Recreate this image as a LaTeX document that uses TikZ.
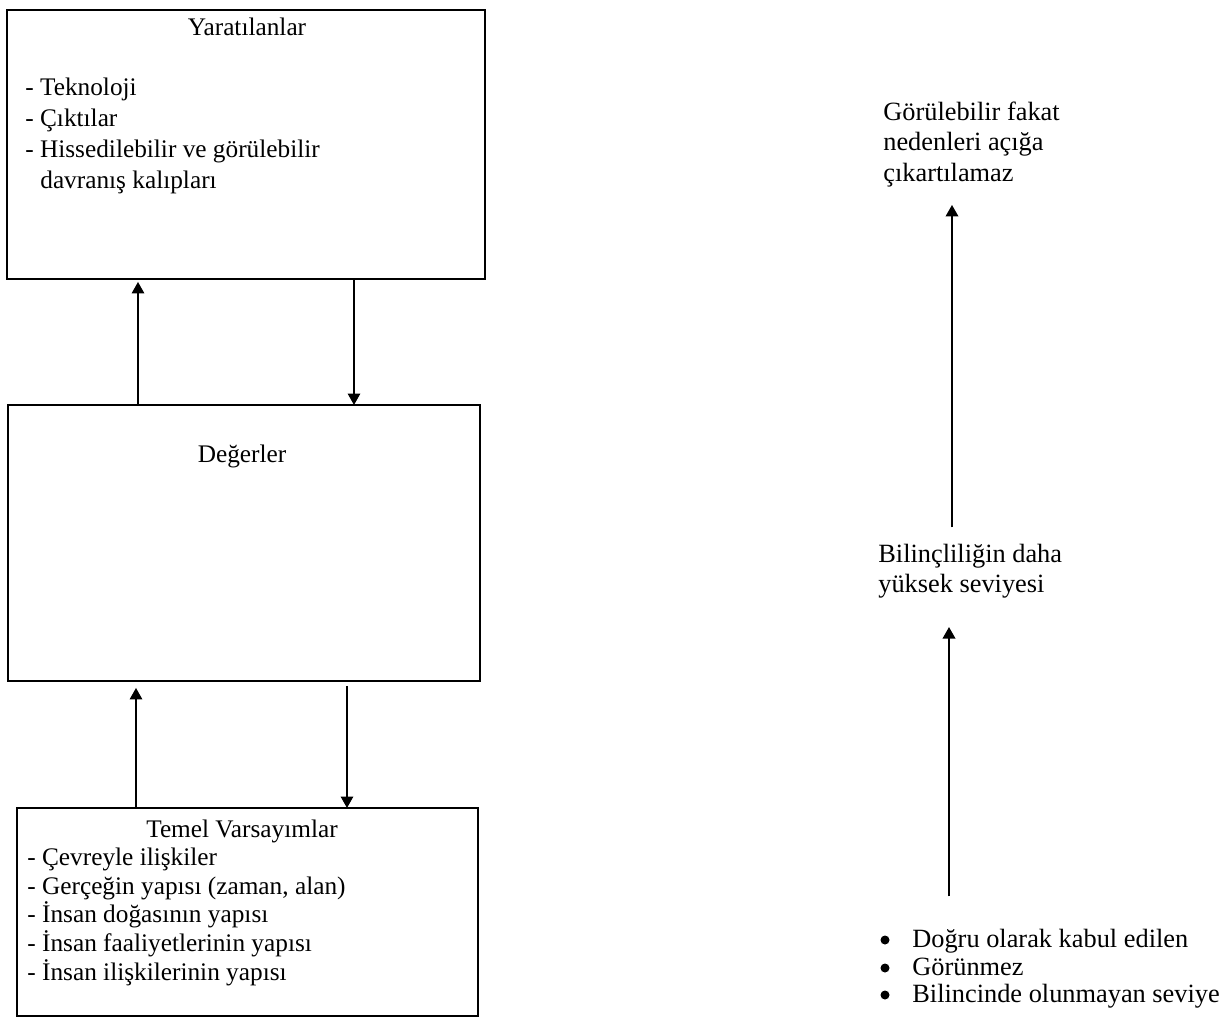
\documentclass[tikz,border=0pt]{standalone}
\usepackage{fontspec}
\setmainfont{Liberation Serif}
\usetikzlibrary{arrows.meta}

\tikzset{
  box/.style={draw, line width=1.2pt, outer sep=0pt, inner sep=0pt, anchor=north west},
  lefttxt/.style={font=\fontsize{14.4}{17}\selectfont, inner sep=0pt, anchor=base west},
  righttxt/.style={font=\fontsize{15}{18}\selectfont, inner sep=0pt, anchor=base west},
  dot/.style={circle, fill, inner sep=0pt, minimum size=0.18cm},
  arr/.style={line width=0.9pt, -{Triangle[length=2.3mm, width=2.5mm]}},
}

\begin{document}
\begin{tikzpicture}[x=0.02cm, y=-0.02cm]
\useasboundingbox (0,0) rectangle (1232,1021);
% the three levels
\node[box, minimum width=9.56cm, minimum height=5.38cm] (yar) at (7,10) {};
\node[box, minimum width=9.44cm, minimum height=5.52cm] (deg) at (8,405) {};
\node[box, minimum width=9.22cm, minimum height=4.16cm] (tem) at (17,808) {};

\node[lefttxt, anchor=base] (yarT) at (247,35) {Yaratılanlar};
\node[lefttxt] (yar1) at (25,95) {- Teknoloji};
\node[lefttxt] (yar2) at (25,126) {- Çıktılar};
\node[lefttxt] (yar3) at (25,157) {- Hissedilebilir ve görülebilir};
\node[lefttxt] (yar4) at (40,188) {davranış kalıpları};

\node[lefttxt, anchor=base] (degT) at (242,462) {Değerler};

\node[lefttxt, anchor=base] (temT) at (242,837) {Temel Varsayımlar};
\node[lefttxt] (tem1) at (27,865) {- Çevreyle ilişkiler};
\node[lefttxt] (tem2) at (27,894) {- Gerçeğin yapısı (zaman, alan)};
\node[lefttxt] (tem3) at (27,922) {- İnsan doğasının yapısı};
\node[lefttxt] (tem4) at (27,951) {- İnsan faaliyetlerinin yapısı};
\node[lefttxt] (tem5) at (27,980) {- İnsan ilişkilerinin yapısı};

% arrows between the boxes
\coordinate (c1) at (138,0);
\coordinate (c2) at (354,0);
\coordinate (c3) at (136,0);
\coordinate (c4) at (347,0);
\draw[arr, shorten >=0.06cm] (deg.north -| c1) -- (yar.south -| c1);
\draw[arr] (yar.south -| c2) -- (deg.north -| c2);
\draw[arr, shorten >=0.14cm] (tem.north -| c3) -- (deg.south -| c3);
\draw[arr, shorten <=0.1cm] (deg.south -| c4) -- (tem.north -| c4);

% right column
\node[righttxt] (gor1) at (883,120) {Görülebilir fakat};
\node[righttxt] (gor2) at (883,150) {nedenleri açığa};
\node[righttxt] (gor3) at (883,181) {çıkartılamaz};

\node[righttxt] (bil1) at (878,562) {Bilinçliliğin daha};
\node[righttxt] (bil2) at (878,592) {yüksek seviyesi};

\node[dot] (b1) at (885,940) {};
\node[dot] (b2) at (885,968) {};
\node[dot] (b3) at (885,995) {};
\node[righttxt] (dog) at (912,947) {Doğru olarak kabul edilen};
\node[righttxt] (gorun) at (912,975) {Görünmez};
\node[righttxt] (blc) at (912,1002) {Bilincinde olunmayan seviye};

\coordinate (r1) at (952,0);
\coordinate (r2) at (949,0);
\draw[arr, line width=1.1pt, shorten <=0.32cm, shorten >=0.36cm] (bil1.north -| r1) -- (gor3.south -| r1);
\draw[arr, line width=1.1pt, shorten <=0.64cm, shorten >=0.58cm] (dog.north -| r2) -- (bil2.south -| r2);
\end{tikzpicture}
\end{document}
